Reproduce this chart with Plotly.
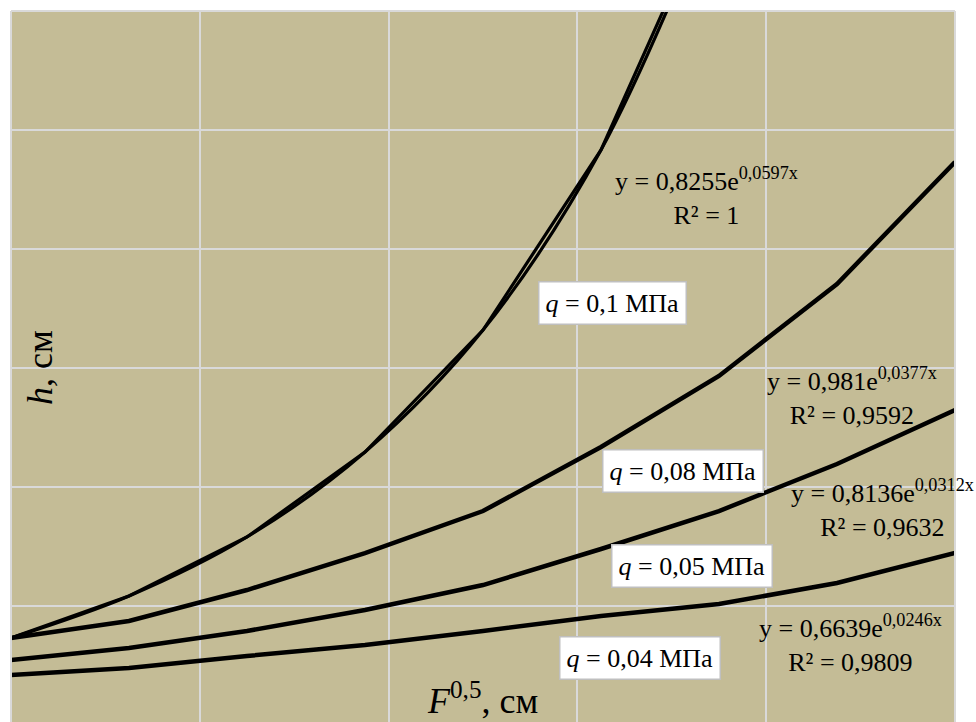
import plotly.graph_objects as go

# F^0.5 values (cm) at which h was measured
f_sqrt = [0, 6.25, 12.5, 18.75, 25, 31.25, 37.5, 43.75, 50]

# h (cm) for each load q
h_q010 = [0.731, 1.084, 1.580, 2.294, 3.319, 4.832, 7.05]
h_q008 = [0.731, 0.874, 1.134, 1.445, 1.798, 2.336, 2.933, 3.706, 4.731]
h_q005 = [0.546, 0.647, 0.790, 0.966, 1.176, 1.479, 1.798, 2.193, 2.647]
h_q004 = [0.420, 0.479, 0.580, 0.672, 0.790, 0.916, 1.017, 1.193, 1.445]

load_labels = ["<i>q</i> = 0,1 МПа", "<i>q</i> = 0,08 МПа",
               "<i>q</i> = 0,05 МПа", "<i>q</i> = 0,04 МПа"]
trend_labels = [
    "y = 0,8255e<sup>0,0597x</sup><br>R² = 1",
    "y = 0,981e<sup>0,0377x</sup><br>R² = 0,9592",
    "y = 0,8136e<sup>0,0312x</sup><br>R² = 0,9632",
    "y = 0,6639e<sup>0,0246x</sup><br>R² = 0,9809",
]

W, H = 976, 722
ML, MR, MT, MB = 11, 21, 11, 0
X_RANGE = [0, 50]
Y_TOP = 6.0
PX_PER_Y = 119.0
Y_RANGE = [Y_TOP - (H - MT - MB) / PX_PER_Y, Y_TOP]

SERIF = "Liberation Serif, Times New Roman, serif"
BG = "#C4BC96"
GRID = "#D9D9D9"


def at(px, py):
    """Pixel position on the page -> data coordinates."""
    x = X_RANGE[0] + (px - ML) / (W - ML - MR) * (X_RANGE[1] - X_RANGE[0])
    y = Y_TOP - (py - MT) / PX_PER_Y
    return x, y


fig = go.Figure()

# q = 0.1 MPa: measured polyline plus its smooth trend curve
fig.add_trace(go.Scatter(x=f_sqrt[:len(h_q010)], y=h_q010, mode="lines",
                         line=dict(color="black", width=3.2, shape="spline", smoothing=1.0)))
fig.add_trace(go.Scatter(x=f_sqrt[:len(h_q010)], y=h_q010, mode="lines",
                         line=dict(color="black", width=3.2)))
for h in (h_q008, h_q005, h_q004):
    fig.add_trace(go.Scatter(x=f_sqrt, y=h, mode="lines",
                             line=dict(color="black", width=4.5)))

annotations = []

# trend equations
for (px, py), txt in zip([(706, 196), (852, 396), (882, 508), (850, 643)], trend_labels):
    x, y = at(px, py)
    annotations.append(dict(x=x, y=y, text=txt, showarrow=False, align="center",
                            font=dict(family=SERIF, size=26, color="black")))

# load labels in white boxes
for (px, py), txt in zip([(612, 303), (683, 471), (692, 566), (640, 658)], load_labels):
    x, y = at(px, py)
    annotations.append(dict(x=x, y=y, text=txt, showarrow=False,
                            bgcolor="white", bordercolor="#BFBFBF", borderwidth=1.5,
                            borderpad=6,
                            font=dict(family=SERIF, size=26, color="black")))

# axis titles placed inside the plotting area
x, y = at(482, 698)
annotations.append(dict(x=x, y=y, text="<i>F</i><sup>0,5</sup>, см", showarrow=False,
                        font=dict(family=SERIF, size=36, color="black")))
x, y = at(40, 368)
annotations.append(dict(x=x, y=y, text="<i>h</i>, см", showarrow=False, textangle=-90,
                        font=dict(family=SERIF, size=36, color="black")))

# frame: left, right and top edges of the plotting area
shapes = [
    dict(type="line", xref="paper", yref="paper", x0=0, x1=0, y0=0, y1=1,
         line=dict(color=GRID, width=2)),
    dict(type="line", xref="paper", yref="paper", x0=1, x1=1, y0=0, y1=1,
         line=dict(color=GRID, width=2)),
    dict(type="line", xref="paper", yref="paper", x0=0, x1=1, y0=1, y1=1,
         line=dict(color=GRID, width=2)),
]

fig.update_layout(
    width=W, height=H,
    margin=dict(l=ML, r=MR, t=MT, b=MB, pad=0),
    paper_bgcolor="white", plot_bgcolor=BG,
    showlegend=False,
    annotations=annotations, shapes=shapes,
    xaxis=dict(range=X_RANGE, dtick=10, tick0=0, showgrid=True, gridcolor=GRID,
               gridwidth=2, zeroline=False, showticklabels=False, ticks="",
               showline=False, fixedrange=True),
    yaxis=dict(range=Y_RANGE, dtick=1, tick0=0, showgrid=True, gridcolor=GRID,
               gridwidth=2, zeroline=False, showticklabels=False, ticks="",
               showline=False, fixedrange=True),
)

fig.write_html("out.html")
